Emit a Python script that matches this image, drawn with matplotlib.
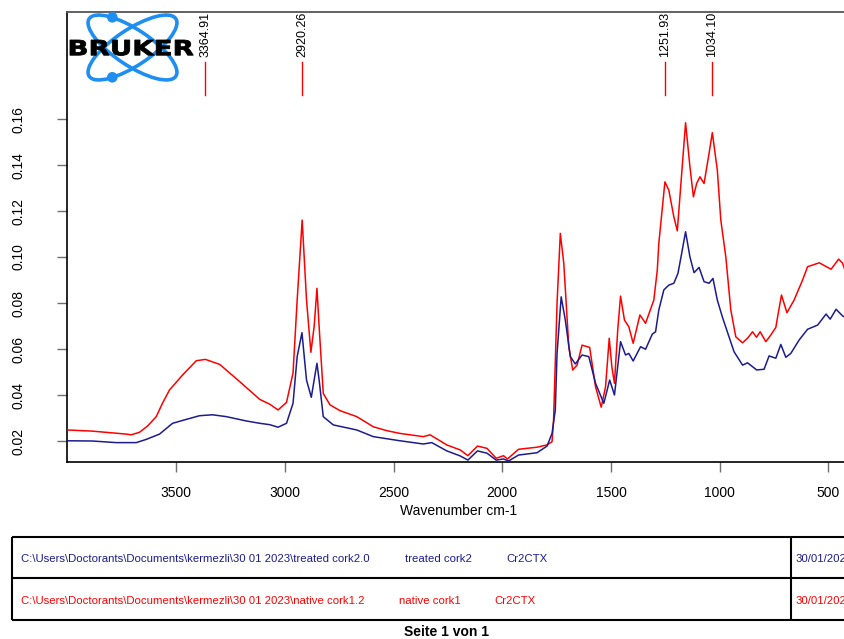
import numpy as np
import matplotlib
matplotlib.use("Agg")
import matplotlib.pyplot as plt
from matplotlib.patches import Ellipse, Circle, PathPatch
from matplotlib.textpath import TextPath
from matplotlib.font_manager import FontProperties
from matplotlib.transforms import Affine2D

plt.rcParams['font.family'] = ['Liberation Sans', 'DejaVu Sans']

# ---- spectra (wavenumber cm-1, absorbance) ----
wn_native = [4000, 3885, 3729, 3706, 3668, 3631, 3591, 3562, 3530, 3470,
             3407, 3365, 3299, 3207, 3115, 3069, 3031, 2992, 2962, 2943,
             2920, 2900, 2880, 2865, 2852, 2842, 2823, 2792, 2746, 2669,
             2593, 2531, 2470, 2424, 2363, 2332, 2255, 2193, 2158, 2114,
             2070, 2028, 1994, 1976, 1925, 1840, 1794, 1771, 1764, 1748,
             1733, 1717, 1694, 1676, 1656, 1633, 1598, 1571, 1545, 1525,
             1508, 1496, 1484, 1469, 1456, 1438, 1418, 1398, 1367, 1341,
             1303, 1287, 1280, 1252, 1234, 1211, 1195, 1176, 1157, 1137,
             1121, 1106, 1091, 1072, 1049, 1034, 1011, 995, 972, 949,
             926, 895, 872, 849, 831, 814, 788, 765, 742, 731,
             716, 691, 658, 619, 596, 542, 488, 453, 435, 419, 400]
abs_native = [0.0248, 0.0243, 0.0230, 0.0227, 0.0238, 0.0265, 0.0306, 0.0365, 0.0422, 0.0487,
              0.0549, 0.0555, 0.0533, 0.0458, 0.0381, 0.0360, 0.0335, 0.0368, 0.0496, 0.0813,
              0.1161, 0.0813, 0.0586, 0.0697, 0.0864, 0.0697, 0.0407, 0.0357, 0.0332, 0.0306,
              0.0262, 0.0245, 0.0233, 0.0227, 0.0219, 0.0227, 0.0183, 0.0161, 0.0136, 0.0178,
              0.0168, 0.0125, 0.0136, 0.0122, 0.0164, 0.0173, 0.0183, 0.0197, 0.0291, 0.0799,
              0.1103, 0.0973, 0.0610, 0.0509, 0.0530, 0.0617, 0.0607, 0.0436, 0.0347, 0.0436,
              0.0647, 0.0523, 0.0451, 0.0683, 0.0830, 0.0726, 0.0697, 0.0625, 0.0748, 0.0712,
              0.0813, 0.0944, 0.1060, 0.1327, 0.1291, 0.1175, 0.1114, 0.1349, 0.1584, 0.1393,
              0.1262, 0.1320, 0.1349, 0.1320, 0.1451, 0.1541, 0.1378, 0.1161, 0.1001, 0.0770,
              0.0653, 0.0627, 0.0647, 0.0675, 0.0651, 0.0675, 0.0632, 0.0661, 0.0694, 0.0755,
              0.0835, 0.0758, 0.0813, 0.0900, 0.0958, 0.0975, 0.0947, 0.0991, 0.0973, 0.0929, 0.0900]

wn_treated = [4000, 3885, 3775, 3683, 3637, 3576, 3516, 3453, 3392, 3332,
              3269, 3176, 3115, 3069, 3031, 2992, 2962, 2943, 2921, 2900,
              2878, 2865, 2852, 2842, 2823, 2777, 2669, 2593, 2470, 2363,
              2324, 2255, 2193, 2158, 2114, 2070, 2028, 1994, 1971, 1925,
              1840, 1794, 1771, 1756, 1748, 1729, 1710, 1687, 1664, 1633,
              1602, 1571, 1533, 1506, 1484, 1456, 1433, 1418, 1398, 1364,
              1341, 1310, 1295, 1280, 1257, 1234, 1211, 1192, 1172, 1157,
              1137, 1118, 1095, 1072, 1049, 1031, 1011, 988, 965, 934,
              895, 872, 830, 796, 773, 742, 719, 696, 673, 635,
              596, 550, 511, 492, 465, 435, 419, 400]
abs_treated = [0.0201, 0.0200, 0.0193, 0.0193, 0.0207, 0.0230, 0.0277, 0.0294, 0.0310, 0.0314,
               0.0306, 0.0287, 0.0277, 0.0271, 0.0260, 0.0277, 0.0364, 0.0567, 0.0671, 0.0465,
               0.0390, 0.0465, 0.0538, 0.0465, 0.0306, 0.0270, 0.0248, 0.0219, 0.0201, 0.0187,
               0.0193, 0.0157, 0.0135, 0.0117, 0.0157, 0.0147, 0.0117, 0.0122, 0.0113, 0.0139,
               0.0149, 0.0178, 0.0233, 0.0335, 0.0581, 0.0827, 0.0726, 0.0567, 0.0535, 0.0574,
               0.0567, 0.0451, 0.0364, 0.0465, 0.0400, 0.0632, 0.0574, 0.0581, 0.0548, 0.0610,
               0.0599, 0.0665, 0.0675, 0.0770, 0.0857, 0.0878, 0.0886, 0.0929, 0.1031, 0.1110,
               0.1001, 0.0932, 0.0955, 0.0893, 0.0886, 0.0907, 0.0813, 0.0740, 0.0675, 0.0588,
               0.0530, 0.0540, 0.0509, 0.0512, 0.0570, 0.0560, 0.0620, 0.0564, 0.0581, 0.0639,
               0.0686, 0.0704, 0.0752, 0.0730, 0.0773, 0.0744, 0.0736, 0.0725]

# picked peaks
peak_wn = [3364.91, 2920.26, 1251.93, 1034.10]

x_ticks = [3500, 3000, 2500, 2000, 1500, 1000, 500]
y_ticks = [0.02, 0.04, 0.06, 0.08, 0.10, 0.12, 0.14, 0.16]

# file list rows
files = [
    ("C:\\Users\\Doctorants\\Documents\\kermezli\\30 01 2023\\treated cork2.0",
     "treated cork2", "Cr2CTX", "30/01/2023"),
    ("C:\\Users\\Doctorants\\Documents\\kermezli\\30 01 2023\\native cork1.2",
     "native cork1", "Cr2CTX", "30/01/2023"),
]
navy = "#1c1c8f"
row_colors = [navy, "#ff0000"]

W, H = 845, 639
fig = plt.figure(figsize=(W / 100, H / 100), dpi=100)


def box(x0, y0, x1, y1):
    """pixel box (top-left origin) -> figure fraction rect"""
    return [x0 / W, 1 - y1 / H, (x1 - x0) / W, (y1 - y0) / H]


ax = fig.add_axes(box(67.3, 11.7, 850.2, 462.3))
ax.plot(wn_native, abs_native, color="#ff0000", lw=1.1, zorder=3)
ax.plot(wn_treated, abs_treated, color=navy, lw=1.1, zorder=4)
ax.set_xlim(4000, 400)
ax.set_ylim(0.01074, 0.2067)

ax.set_xticks(x_ticks)
ax.set_xticklabels([str(t) for t in x_ticks])
ax.set_yticks(y_ticks)
ax.set_yticklabels([f"{t:.2f}" for t in y_ticks], rotation=90, va="center")
ax.tick_params(axis="both", direction="out", length=7, width=1.0,
               color="#707070", labelsize=10, labelcolor="black")
ax.tick_params(axis="x", pad=10)
ax.tick_params(axis="y", pad=23)
ax.set_xlabel("Wavenumber cm-1", fontsize=10, labelpad=3)
for side in ("left", "bottom"):
    ax.spines[side].set_color("black")
    ax.spines[side].set_linewidth(1.2)
ax.spines["top"].set_color("#555555")
ax.spines["top"].set_linewidth(1.3)
ax.spines["right"].set_visible(False)

# peak markers
for p in peak_wn:
    ax.plot([p, p], [0.1704, 0.1848], color="#ff0000", lw=1.0, zorder=5)
    ax.text(p, 0.1868, f"{p:.2f}", rotation=90, ha="center", va="bottom",
            fontsize=9, color="black")

# overlay in pixel coordinates (y up) for logo and file table
ov = fig.add_axes([0, 0, 1, 1], zorder=10)
ov.set_xlim(0, W)
ov.set_ylim(0, H)
ov.axis("off")
ov.patch.set_alpha(0)

# logo
blue = "#1e8ff0"
cx, cy = 132.5, H - 47.5
for ang in (-33.6, 33.6):
    ov.add_patch(Ellipse((cx, cy), 104, 36, angle=ang, fill=False,
                         ec=blue, lw=2.6))
for (dx, dy) in ((112.3, H - 17.3), (112.3, H - 77.3)):
    ov.add_patch(Circle((dx, dy), 4.6, color=blue))
tp = TextPath((0, 0), "BRUKER", size=20,
              prop=FontProperties(family="DejaVu Sans", weight="bold"))
ext = tp.get_extents()
tr = (Affine2D().translate(-ext.x0, -ext.y0)
      .scale((193.3 - 70) / ext.width, 15.5 / ext.height)
      .translate(70, H - 55.5))
ov.add_patch(PathPatch(tr.transform_path(tp), fc="black", ec="black",
                       lw=0.6, zorder=3))

# file table
lk = dict(color="black", lw=1.5, solid_capstyle="butt")
ov.plot([12.5, 900], [H - 537, H - 537], **lk)
ov.plot([12.5, 900], [H - 578, H - 578], **lk)
ov.plot([12.5, 900], [H - 620, H - 620], **lk)
ov.plot([12.5, 12.5], [H - 537, H - 620], **lk)
ov.plot([791, 791], [H - 537, H - 620], **lk)
col_x = [[21.5, 405, 506.5, 796], [21.5, 398.7, 494, 796]]
row_y = [559, 601]
for r, row in enumerate(files):
    for c, txt in enumerate(row):
        ov.text(col_x[r][c], H - row_y[r], txt, fontsize=8.2,
                color=row_colors[r], ha="left", va="center")
ov.text(447, H - 632, "Seite 1 von 1", fontsize=10, fontweight="bold",
        ha="center", va="center", color="black")

fig.savefig("out.png", dpi=100, facecolor="white")
